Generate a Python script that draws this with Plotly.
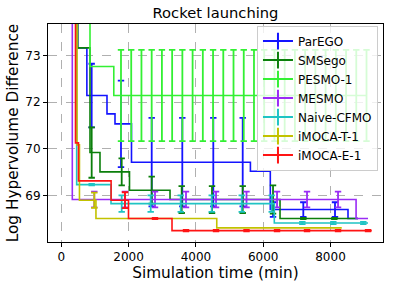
import plotly.graph_objects as go

# ---------------- data ----------------
names = ["ParEGO", "SMSego", "PESMO-1", "MESMO", "Naive-CFMO", "iMOCA-T-1", "iMOCA-E-1"]
colors = ["#1414ff", "#0b7f0b", "#33f033", "#9a2cf5", "#1fc4c4", "#c2c200", "#ff1414"]

# step curves (time of improvement, new value)
parego_t = [487, 487, 760, 1358, 1596, 2086, 5620, 6211, 8520, 8820]
parego_v = [75.0, 73.22, 71.84, 71.31, 71.02, 69.91, 69.65, 68.54, 68.28, 68.28]
smsego_t = [487, 487, 853, 1150, 2027, 3231, 6500, 8818]
smsego_v = [75.0, 73.22, 70.19, 69.63, 69.10, 68.83, 68.28, 68.28]
pesmo_t = [853, 853, 1560, 9085]
pesmo_v = [75.0, 72.68, 71.84, 71.84]
mesmo_t = [327, 327, 8760, 9115]
mesmo_v = [75.0, 68.83, 68.28, 68.28]
naive_t = [457, 457, 1477, 6330, 9115]
naive_v = [75.0, 69.26, 68.71, 68.15, 68.15]
imocat_t = [467, 467, 540, 1030, 4620, 8334]
imocat_v = [75.0, 70.41, 68.81, 68.28, 68.01, 68.01]
imocae_t = [422, 422, 511, 1480, 1997, 3290, 9225]
imocae_v = [75.0, 70.47, 69.37, 68.81, 68.28, 67.93, 67.93]

# error bars (time, mean, std)
parego_et = [903, 1774, 2687, 3596, 4517, 5391, 6292, 7192, 8134]
parego_em = [71.84, 71.02, 69.91, 69.91, 69.91, 69.91, 68.54, 68.54, 68.54]
parego_es = [0.92, 1.25, 1.28, 1.28, 1.28, 1.28, 0.21, 0.21, 0.21]
smsego_et = [903, 1795, 2687, 3578, 4479, 5391, 6292, 7192, 8114]
smsego_em = [70.19, 69.63, 69.10, 68.83, 68.83, 68.83, 68.83, 68.28, 68.28]
smsego_es = [0.73, 0.39, 0.39, 0.39, 0.39, 0.39, 0.41, 0.02, 0.02]
pesmo_et = [1774, 2078, 2382, 2686, 2990, 3294, 3598, 3902, 4206, 4510, 4814, 5118, 5422,
            5726, 6030, 6334, 6638, 6942, 7246, 7550, 7854, 8158, 8462, 8766, 9070]
pesmo_em = [71.84] * 25
pesmo_es = [1.32] * 25
mesmo_et = [981, 1893, 2785, 3706, 4598, 5504, 6411, 7302, 8224]
mesmo_em = [68.83, 68.83, 68.83, 68.83, 68.83, 68.83, 68.83, 68.83, 68.83]
mesmo_es = [0.23, 0.23, 0.23, 0.23, 0.23, 0.23, 0.23, 0.23, 0.23]
naive_et = [903, 1795, 2657, 3549, 4470, 5362, 6253, 7163, 8084, 8975]
naive_em = [69.26, 68.71, 68.71, 68.71, 68.71, 68.71, 68.71, 68.15, 68.15, 68.15]
naive_es = [0.02, 0.24, 0.24, 0.24, 0.24, 0.24, 0.24, 0.03, 0.03, 0.03]
imocat_et = [981]
imocat_em = [68.81]
imocat_es = [0.22]
imocae_et = [1893, 2785, 3706, 4598, 5504, 6411, 7302, 8224, 9115]
imocae_em = [68.81, 68.28, 67.93, 67.93, 67.93, 67.93, 67.93, 67.93, 67.93]
imocae_es = [0.23, 0.02, 0.02, 0.02, 0.02, 0.02, 0.02, 0.02, 0.02]

y_tickvals = [68.95, 70.3, 71.65, 73.0]
y_ticktext = ["69", "70", "72", "73"]
x_tickvals = [0, 2000, 4000, 6000, 8000]
x_ticktext = ["0", "2000", "4000", "6000", "8000"]

curves = [(parego_t, parego_v), (smsego_t, smsego_v), (pesmo_t, pesmo_v), (mesmo_t, mesmo_v),
          (naive_t, naive_v), (imocat_t, imocat_v), (imocae_t, imocae_v)]
bars = [(parego_et, parego_em, parego_es), (smsego_et, smsego_em, smsego_es),
        (pesmo_et, pesmo_em, pesmo_es), (mesmo_et, mesmo_em, mesmo_es),
        (naive_et, naive_em, naive_es), (imocat_et, imocat_em, imocat_es),
        (imocae_et, imocae_em, imocae_es)]

fig = go.Figure()
for name, c, (t, v), (et, em, es) in zip(names, colors, curves, bars):
    fig.add_trace(go.Scatter(x=t, y=v, mode="lines", line=dict(color=c, width=1.6, shape="hv"),
                             showlegend=False, hoverinfo="skip"))
    fig.add_trace(go.Scatter(x=et, y=em, mode="markers", marker=dict(size=0.1, color=c, opacity=0),
                             error_y=dict(type="data", array=es, visible=True, color=c,
                                          thickness=1.8, width=3.2),
                             showlegend=False, hoverinfo="skip"))
for name, c in zip(names, colors):
    fig.add_trace(go.Scatter(x=[None], y=[None], mode="lines+markers", name=name,
                             line=dict(color=c, width=2),
                             marker=dict(symbol="line-ns", size=12, line=dict(color=c, width=2))))

fig.update_layout(
    width=393, height=288,
    margin=dict(l=48, r=10, t=24, b=46),
    paper_bgcolor="white", plot_bgcolor="white",
    font=dict(family="DejaVu Sans", color="black", size=12),
    title=dict(text="Rocket launching", font=dict(size=14.7), x=(48 + 335 / 2) / 393,
               xanchor="center", y=1 - 13 / 288, yanchor="middle", yref="container"),
    legend=dict(x=0.985, y=0.993, xanchor="right", yanchor="top",
                bgcolor="rgba(255,255,255,0.8)", bordercolor="#cccccc", borderwidth=1,
                font=dict(size=12), itemwidth=30, tracegroupgap=0),
    showlegend=True,
)
fig.update_xaxes(range=[-395, 9560], tickvals=x_tickvals, ticktext=x_ticktext,
                 showline=True, linecolor="black", linewidth=1, mirror=True,
                 ticks="outside", ticklen=4, tickcolor="black",
                 showgrid=True, gridcolor="#b0b0b0", griddash="dash", gridwidth=0.8,
                 zeroline=False, title=dict(text="Simulation time (min)", font=dict(size=15.3), standoff=2))
fig.update_yaxes(range=[67.6, 73.91], tickvals=y_tickvals, ticktext=y_ticktext,
                 showline=True, linecolor="black", linewidth=1, mirror=True,
                 ticks="outside", ticklen=4, tickcolor="black",
                 showgrid=True, gridcolor="#b0b0b0", griddash="dash", gridwidth=0.8,
                 zeroline=False, title=dict(text="Log Hypervolume Difference", font=dict(size=15.3), standoff=2))

fig.write_html("out.html", config={"displayModeBar": False},
               post_script="document.body.style.margin='0px';")
